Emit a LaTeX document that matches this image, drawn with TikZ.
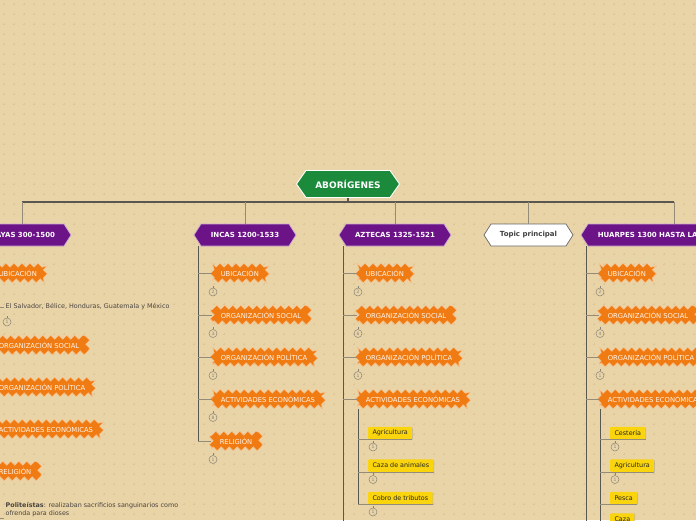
\documentclass[tikz,border=0pt]{standalone}
\usepackage{fontspec}
\setmainfont{DejaVu Sans}
\usetikzlibrary{shapes.symbols,decorations.pathmorphing,shadows}
\definecolor{bg}{HTML}{E9D4A8}
\definecolor{dotc}{HTML}{DBC496}
\definecolor{rootg}{HTML}{1B8A3A}
\definecolor{purp}{HTML}{6B1387}
\definecolor{orng}{HTML}{F07B12}
\definecolor{yel}{HTML}{FAD40C}
\definecolor{linedark}{HTML}{5A5750}
\definecolor{linelight}{HTML}{948B78}
\definecolor{cntcol}{HTML}{8A8478}
\definecolor{txt}{HTML}{4A4540}
\tikzset{
 hexroot/.style={signal, signal to=west and east, signal pointer angle=110, fill=rootg, draw=white, line width=0.9pt, text=white, font=\fontsize{9}{10}\selectfont\bfseries, minimum width=103pt, minimum height=27pt, inner sep=0pt},
 hexp/.style={signal, signal to=west and east, signal pointer angle=115, fill=purp, draw=purp!35!white, line width=0.7pt, text=white, font=\fontsize{7}{8}\selectfont\bfseries, minimum height=22pt, inner sep=0pt},
 topicw/.style={hexp, fill=white, draw=black!60, text=black!75},
 burst/.style={rectangle, fill=orng, draw=orng!45!white, line width=0.5pt, decorate, decoration={zigzag, segment length=8pt, amplitude=2pt}, text=white!92!orange, font=\fontsize{6.8}{7}\selectfont, minimum height=15.5pt, inner xsep=8.5pt, inner ysep=0pt, anchor=west},
 ybox/.style={rectangle, rounded corners=1pt, fill=yel, text=black!85, font=\fontsize{6.4}{7}\selectfont, inner xsep=4.3pt, inner ysep=0pt, minimum height=12.5pt, anchor=west, drop shadow={shadow xshift=0.7pt, shadow yshift=-0.7pt, fill=black!40, opacity=0.45}},
 cntc/.style={circle, draw=cntcol, line width=0.5pt, inner sep=0pt, minimum size=8pt, text=cntcol, font=\fontsize{4.5}{5}\selectfont},
 ptext/.style={text=txt, font=\fontsize{6.4}{8}\selectfont, inner sep=1.5pt},
 busline/.style={draw=linedark, line width=1.1pt},
 drop/.style={draw=linelight, line width=1pt},
 spine/.style={draw=linedark, line width=0.8pt},
 branch/.style={draw=linelight, line width=0.8pt},
}
\begin{document}
\begin{tikzpicture}[x=1pt,y=-1pt]
\useasboundingbox (0,0) rectangle (696,520);
\clip (0,0) rectangle (696,520);
\fill[bg] (0,0) rectangle (696,520);
\draw[dotc, line width=0.45pt] foreach \x in {4,14,...,694}{ foreach \y in {4,14,...,514}{ (\x-0.9,\y) -- (\x+0.9,\y) (\x,\y-0.9) -- (\x,\y+0.9) } };

% main topics
\node[hexroot] (root) at (348,184) {ABORÍGENES};
\node[hexp, minimum width=98pt] (mayas) at (22,235) {MAYAS 300-1500};
\node[hexp, minimum width=102pt] (incas) at (245,235) {INCAS 1200-1533};
\node[hexp, minimum width=112pt] (aztecas) at (395,235) {AZTECAS 1325-1521};
\node[topicw, minimum width=89pt] (topic) at (528.5,235) {Topic principal};
\node[hexp, minimum width=186pt] (huarpes) at (674,235) {HUARPES 1300 HASTA LA ACTUALIDAD};

\coordinate (bus) at (348,202);
\draw[busline] (root.south) -- (bus);
\draw[busline] (mayas.north |- bus) -- (huarpes.north |- bus);
\foreach \n in {mayas,incas,aztecas,topic,huarpes} \draw[drop] (\n.north |- bus) -- (\n.north);

% spine coordinates
\coordinate (mS) at (-23,246);
\coordinate (iS) at (198,246);
\coordinate (aS) at (343,246);
\coordinate (hS) at (586,246);
\coordinate (aE) at (343,524);
\coordinate (hE) at (586,524);

% MAYAS
\node[burst] (m1) at (-10,273) {UBICACIÓN};
\node[burst] (m2) at (-10,345) {ORGANIZACIÓN SOCIAL};
\node[burst] (m3) at (-10,387) {ORGANIZACIÓN POLÍTICA};
\node[burst] (m4) at (-10,429) {ACTIVIDADES ECONÓMICAS};
\node[burst] (m5) at (-10,471) {RELIGIÓN};
\node[ptext, anchor=west] (mt1) at (4,307) {El Salvador, Bélice, Honduras, Guatemala y México};
\node[cntc] (mc1) at (7,322) {1};
\node[ptext, anchor=north west, align=left] (mt2) at (4,500.5) {\textbf{Politeístas}: realizaban sacrificios sanguinarios como\\ofrenda para dioses};
\coordinate (mU) at (-9,283);
\coordinate (mR) at (-9,481);
\draw[spine] (mS) -- (mS |- m5.west);
\foreach \k in {1,...,5} \draw[branch] (mS |- m\k.west) -- (m\k.west);
\draw[spine] (mU) -- (mU |- mt1.west);
\draw[branch] (mU |- mt1.west) -- (mt1.west);
\draw[spine] (mR) -- (mR |- mt2.south west);
\draw[branch] (mR |- mt2.south west) -- (mt2.south west);

% INCAS
\node[burst] (i1) at (212,273) {UBICACIÓN};
\node[burst] (i2) at (212,315) {ORGANIZACIÓN SOCIAL};
\node[burst] (i3) at (212,357) {ORGANIZACIÓN POLÍTICA};
\node[burst] (i4) at (212,399) {ACTIVIDADES ECONÓMICAS};
\node[burst] (i5) at (211,441) {RELIGIÓN};
\draw[spine] (iS) -- (iS |- i5.west);
\foreach \k in {1,...,5} \draw[branch] (iS |- i\k.west) -- (i\k.west);
\node[cntc] (ic1) at (213,292) {2};
\node[cntc] (ic2) at (213,333.5) {3};
\node[cntc] (ic3) at (213,375.5) {1};
\node[cntc] (ic4) at (213,417.5) {8};
\node[cntc] (ic5) at (213,459.5) {1};

% AZTECAS
\node[burst] (a1) at (357,273) {UBICACIÓN};
\node[burst] (a2) at (357,315) {ORGANIZACIÓN SOCIAL};
\node[burst] (a3) at (357,357) {ORGANIZACIÓN POLÍTICA};
\node[burst] (a4) at (357,399) {ACTIVIDADES ECONÓMICAS};
\draw[spine] (aS) -- (aE);
\foreach \k in {1,...,4} \draw[branch] (aS |- a\k.west) -- (a\k.west);
\node[cntc] (ac1) at (358,292) {2};
\node[cntc] (ac2) at (358,333.5) {6};
\node[cntc] (ac3) at (358,375.5) {1};
\coordinate (aSub) at (358,409);
\node[ybox] (ay1) at (368,433) {Agricultura};
\node[ybox] (ay2) at (368,465.5) {Caza de animales};
\node[ybox] (ay3) at (368,498) {Cobro de tributos};
\draw[spine] (aSub) -- (aSub |- ay3.south);
\foreach \k in {1,2,3} \draw[branch] (aSub |- ay\k.south east) -- (ay\k.south east);
\node[cntc] (ayc1) at (373,447) {1};
\node[cntc] (ayc2) at (373,479.5) {1};
\node[cntc] (ayc3) at (373,512) {1};

% HUARPES
\node[burst] (h1) at (599,273) {UBICACIÓN};
\node[burst] (h2) at (599,315) {ORGANIZACIÓN SOCIAL};
\node[burst] (h3) at (599,357) {ORGANIZACIÓN POLÍTICA};
\node[burst] (h4) at (599,399) {ACTIVIDADES ECONÓMICAS};
\draw[spine] (hS) -- (hE);
\foreach \k in {1,...,4} \draw[branch] (hS |- h\k.west) -- (h\k.west);
\node[cntc] (hc1) at (600,292) {2};
\node[cntc] (hc2) at (600,333.5) {4};
\node[cntc] (hc3) at (600,375.5) {1};
\coordinate (hSub) at (600,409);
\coordinate (hSubE) at (600,524);
\node[ybox] (hy1) at (610,433) {Cestería};
\node[ybox] (hy2) at (610,465.5) {Agricultura};
\node[ybox] (hy3) at (610,498) {Pesca};
\node[ybox] (hy4) at (610,519.5) {Caza};
\draw[spine] (hSub) -- (hSubE);
\foreach \k in {1,2,3,4} \draw[branch] (hSub |- hy\k.south east) -- (hy\k.south east);
\node[cntc] (hyc1) at (615,447) {1};
\node[cntc] (hyc2) at (615,479.5) {1};

% counter ticks
\foreach \c in {mc1,ic1,ic2,ic3,ic4,ic5,ac1,ac2,ac3,ayc1,ayc2,ayc3,hc1,hc2,hc3,hyc1,hyc2}
  \draw[cntcol, line width=0.5pt] (\c.north) -- ++(0,-1.8);
\end{tikzpicture}
\end{document}
